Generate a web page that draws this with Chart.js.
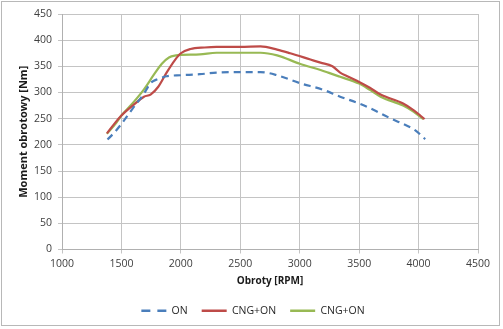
<!DOCTYPE html>
<html>
<head>
<meta charset="utf-8">
<script src="https://cdn.jsdelivr.net/npm/chart.js@4/dist/chart.umd.min.js"></script>
<style>
html,body{margin:0;padding:0;background:#fff;}
#wrap{position:absolute;left:0;top:0;width:503px;height:329px;}
</style>
</head>
<body>
<div id="wrap"><canvas id="c" width="503" height="329"></canvas></div>
<script>
// ---- data ----
const xTicks = [1000, 1500, 2000, 2500, 3000, 3500, 4000, 4500];
const yTicks = [0, 50, 100, 150, 200, 250, 300, 350, 400, 450];

const seriesNames = ["ON", "CNG+ON", "CNG+ON"];

const onRpm    = [1383, 1450, 1500, 1600, 1690, 1745, 1810, 1880, 2000, 2160, 2300, 2440, 2500, 2670, 2810, 3000, 3200, 3340, 3500, 3620, 3760, 3860, 3970, 4056];
const onTorque = [210, 226, 240, 271, 298, 318, 326, 331, 333, 335, 338, 339, 339, 339, 333, 318, 305, 292, 279, 267, 251, 241, 228, 211];

const cngRpm    = [1378, 1450, 1500, 1600, 1690, 1745, 1810, 1880, 1950, 2000, 2080, 2200, 2300, 2500, 2670, 2810, 2920, 3090, 3175, 3275, 3340, 3400, 3500, 3590, 3680, 3870, 3960, 4010, 4050];
const cngTorque = [222, 243, 256, 276, 292, 296, 311, 338, 362, 375, 383, 386, 387, 387, 388, 382, 375, 363, 357, 350, 338, 331, 320, 309, 296, 279, 266, 257, 249];

const cng2Rpm    = [1378, 1450, 1500, 1600, 1690, 1770, 1840, 1900, 1960, 2000, 2160, 2300, 2500, 2670, 2810, 3000, 3175, 3240, 3340, 3500, 3590, 3680, 3870, 3960, 4040];
const cng2Torque = [221, 240, 256, 281, 306, 333, 355, 367, 371, 372, 373, 376, 376, 376, 371, 355, 343, 338, 330, 317, 305, 292, 275, 263, 249];

const toPts = (xs, ys) => xs.map((x, i) => ({x: x, y: ys[i]}));

const FONT = "'Open Sans', 'Liberation Sans', sans-serif";

const framePlugin = {
  id: 'frame',
  beforeDraw(chart) {
    const ctx = chart.ctx;
    ctx.save();
    ctx.fillStyle = '#ffffff';
    ctx.fillRect(0, 0, chart.width, chart.height);
    ctx.strokeStyle = '#b8b8b8';
    ctx.lineWidth = 1;
    ctx.strokeRect(1.5, 1.5, 498, 324);
    ctx.restore();
  },
  afterLayout(chart) {
    if (chart.legend) {
      chart.legend.left += 14;
      chart.legend.right += 14;
    }
  }
};

new Chart(document.getElementById('c'), {
  type: 'line',
  data: {
    datasets: [
      {label: seriesNames[0], data: toPts(onRpm, onTorque), borderColor: '#4A7EBB', backgroundColor: '#4A7EBB', borderWidth: 2.2, borderDash: [7, 5], pointRadius: 0, fill: false, cubicInterpolationMode: 'monotone'},
      {label: seriesNames[1], data: toPts(cngRpm, cngTorque), borderColor: '#BE4B48', backgroundColor: '#BE4B48', borderWidth: 2.2, pointRadius: 0, fill: false, cubicInterpolationMode: 'monotone'},
      {label: seriesNames[2], data: toPts(cng2Rpm, cng2Torque), borderColor: '#98B954', backgroundColor: '#98B954', borderWidth: 2.2, pointRadius: 0, fill: false, cubicInterpolationMode: 'monotone'}
    ]
  },
  options: {
    responsive: false,
    animation: false,
    devicePixelRatio: 1,
    layout: {padding: {left: 0, right: 25, top: 14, bottom: 3}},
    plugins: {
      legend: {
        position: 'bottom',
        labels: {
          usePointStyle: true,
          pointStyle: 'line',
          pointStyleWidth: 25,
          boxWidth: 25,
          padding: 14,
          color: '#262626',
          font: {family: FONT, size: 10.5},
          generateLabels(chart) {
            const items = Chart.defaults.plugins.legend.labels.generateLabels(chart);
            items.forEach(it => {
              it.pointStyle = 'line';
              it.lineWidth = 2.5;
              if (it.datasetIndex === 0) it.lineDash = [9, 7];
            });
            return items;
          }
        }
      },
      tooltip: {enabled: false}
    },
    scales: {
      x: {
        type: 'linear',
        min: 1000, max: 4500,
        afterBuildTicks(scale) { scale.ticks = xTicks.map(v => ({value: v})); },
        afterFit(scale) { scale.height = 42; },
        grid: {color: '#c4c4c4', lineWidth: 1, tickLength: 4, drawTicks: true},
        border: {color: '#b0b0b0'},
        ticks: {color: '#404040', font: {family: FONT, size: 10.5}, padding: 4, maxRotation: 0, callback: v => String(v)},
        title: {display: true, text: 'Obroty [RPM]', color: '#1a1a1a', font: {family: FONT, size: 10, weight: 'bold'}, padding: {top: 0, bottom: 4}}
      },
      y: {
        type: 'linear',
        min: 0, max: 450,
        afterBuildTicks(scale) { scale.ticks = yTicks.map(v => ({value: v})); },
        afterFit(scale) { scale.width = 62; },
        grid: {color: '#c4c4c4', lineWidth: 1, tickLength: 4},
        border: {color: '#b0b0b0'},
        ticks: {color: '#404040', font: {family: FONT, size: 10.5}, padding: 6, callback: v => String(v)},
        title: {display: true, text: 'Moment obrotowy [Nm]', color: '#1a1a1a', font: {family: FONT, size: 11, weight: 'bold'}, padding: {top: 17, bottom: 0}}
      }
    }
  },
  plugins: [framePlugin]
});
</script>
</body>
</html>
